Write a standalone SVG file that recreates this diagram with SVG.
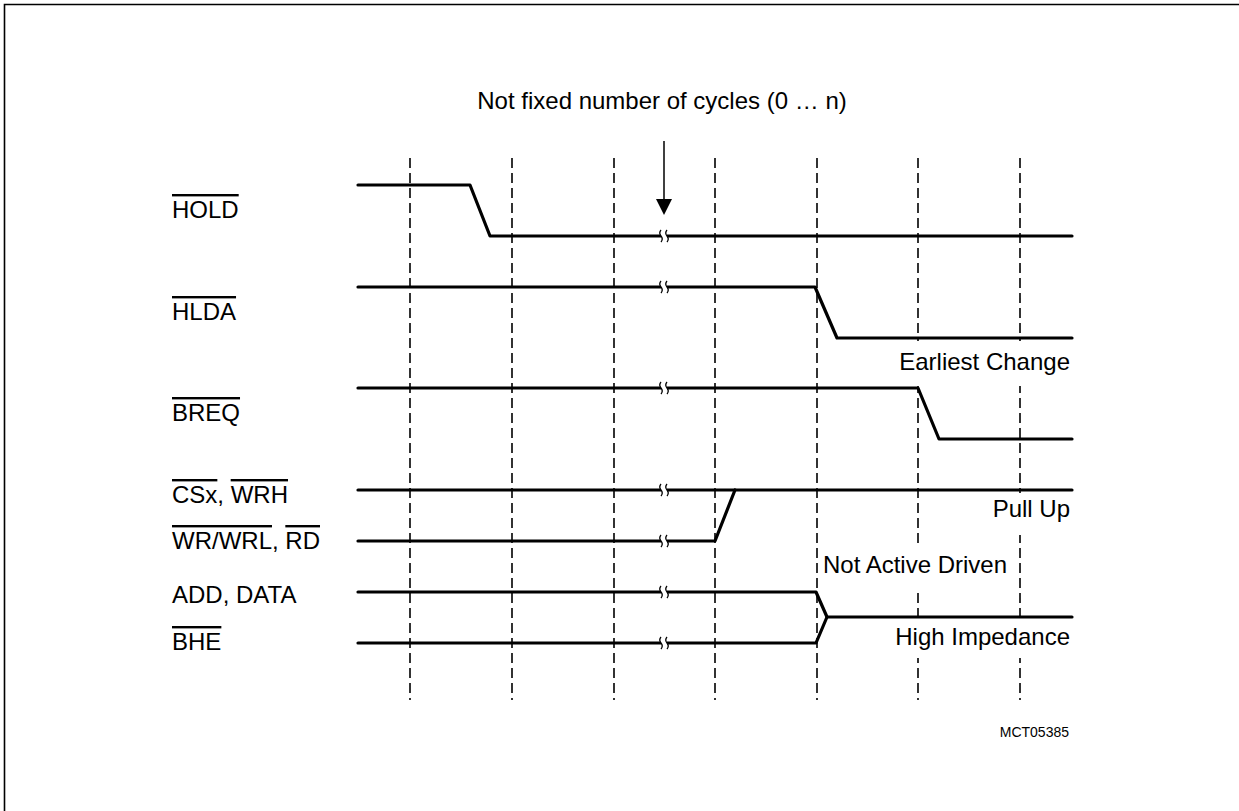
<svg xmlns="http://www.w3.org/2000/svg" xmlns:xlink="http://www.w3.org/1999/xlink" width="1239" height="811" viewBox="0 0 1239 811">
<style>
text{font-family:"Liberation Sans",Arial,sans-serif;font-size:24px;fill:#000}
.ov{text-decoration:overline}
.grid{stroke:#000;stroke-width:1.6;stroke-dasharray:10 5;fill:none}
.wave{stroke:#000;stroke-width:3.2;fill:none;stroke-linejoin:round;stroke-linecap:round}
.brk{stroke:#000;stroke-width:1.3;fill:none}
.mask{fill:#fff;stroke:none}
</style>
<defs>
<g id="break">
<rect x="-3" y="-5" width="6" height="10" fill="#fff"/>
<path class="brk" d="M-3,-6 q-2.5,3 0,6 q2.5,3 0,6"/>
<path class="brk" d="M3,-6 q-2.5,3 0,6 q2.5,3 0,6"/>
</g>
</defs>
<g id="frame">
<path d="M4.5,811 V4.5 H1239" fill="none" stroke="#000" stroke-width="1.6"/>
</g>
<g id="gridlines">
<line class="grid" x1="410" y1="158" x2="410" y2="700"/>
<line class="grid" x1="512" y1="158" x2="512" y2="700"/>
<line class="grid" x1="614" y1="158" x2="614" y2="700"/>
<line class="grid" x1="715" y1="158" x2="715" y2="700"/>
<line class="grid" x1="817" y1="158" x2="817" y2="700"/>
<line class="grid" x1="918" y1="158" x2="918" y2="700"/>
<line class="grid" x1="1020" y1="158" x2="1020" y2="700"/>
</g>
<g id="masks">
<rect class="mask" x="885" y="341" width="188" height="45"/>
<rect class="mask" x="985" y="493" width="88" height="42"/>
<rect class="mask" x="821" y="543" width="195" height="45"/>
<rect class="mask" x="880" y="620" width="193" height="38"/>
</g>
<g id="connectors">
<polyline id="w-hold" class="wave" points="358,185 470,185 490,236 1072,236"/>
<polyline id="w-hlda" class="wave" points="358,287 815,287 837,338 1072,338"/>
<polyline id="w-breq" class="wave" points="358,388 918,388 939,439 1072,439"/>
<polyline id="w-cs" class="wave" points="358,490 1072,490"/>
<polyline id="w-wr" class="wave" points="358,541 715,541 735,490"/>
<polyline id="w-add" class="wave" points="358,592 816,592 827,617 1072,617"/>
<polyline id="w-bhe" class="wave" points="358,643 816,643 827,617"/>
<use xlink:href="#break" x="664" y="236"/>
<use xlink:href="#break" x="664" y="287"/>
<use xlink:href="#break" x="664" y="388"/>
<use xlink:href="#break" x="664" y="490"/>
<use xlink:href="#break" x="664" y="541"/>
<use xlink:href="#break" x="664" y="592"/>
<use xlink:href="#break" x="664" y="643"/>
<line x1="664" y1="141" x2="664" y2="200" stroke="#000" stroke-width="1.5"/>
<polygon points="656,199 672,199 664,215" fill="#000"/>
</g>
<g id="labels">
<text x="662" y="109" text-anchor="middle">Not fixed number of cycles (0 … n)</text>
<text x="172" y="218"><tspan class="ov">HOLD</tspan></text>
<text x="172" y="320"><tspan class="ov">HLDA</tspan></text>
<text x="172" y="421"><tspan class="ov">BREQ</tspan></text>
<text x="172" y="503"><tspan class="ov">CSx</tspan>, <tspan class="ov">WRH</tspan></text>
<text x="172" y="549"><tspan class="ov">WR/WRL</tspan>, <tspan class="ov">RD</tspan></text>
<text x="172" y="603">ADD, DATA</text>
<text x="172" y="650"><tspan class="ov">BHE</tspan></text>
<text x="1070" y="370" text-anchor="end">Earliest Change</text>
<text x="1070" y="517" text-anchor="end">Pull Up</text>
<text x="823" y="573">Not Active Driven</text>
<text x="1070" y="645" text-anchor="end">High Impedance</text>
<text x="1069" y="737" text-anchor="end" style="font-size:14px">MCT05385</text>
</g>
</svg>
